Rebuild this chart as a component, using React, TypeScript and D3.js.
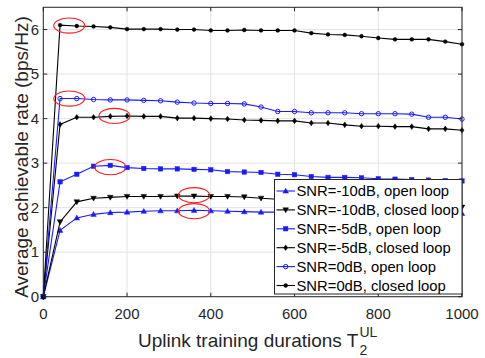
import React from "react";
import * as d3 from "d3";

const durations = [0, 40, 80, 120, 160, 200, 240, 280, 320, 360, 400, 440, 480, 520, 560, 600, 640, 680, 720, 760, 800, 840, 880, 920, 960, 1000];

const snrM10Open = [0, 1.49, 1.77, 1.85, 1.89, 1.90, 1.92, 1.93, 1.93, 1.94, 1.93, 1.92, 1.91, 1.90, 1.90, 1.89, 1.89, 1.89, 1.88, 1.88, 1.88, 1.87, 1.87, 1.87, 1.87, 1.87];
const snrM10Closed = [0, 1.68, 2.13, 2.21, 2.23, 2.25, 2.25, 2.25, 2.26, 2.26, 2.25, 2.25, 2.24, 2.21, 2.19, 2.17, 2.15, 2.14, 2.13, 2.11, 2.10, 2.08, 2.07, 2.05, 2.03, 2.01];
const snrM5Open = [0, 2.58, 2.75, 2.93, 2.95, 2.90, 2.88, 2.87, 2.87, 2.86, 2.85, 2.81, 2.80, 2.79, 2.75, 2.74, 2.70, 2.68, 2.68, 2.67, 2.65, 2.64, 2.63, 2.62, 2.61, 2.60];
const snrM5Closed = [0, 3.87, 4.03, 4.03, 4.05, 4.06, 4.05, 4.05, 4.01, 4.01, 4.00, 3.99, 3.97, 3.96, 3.95, 3.95, 3.90, 3.90, 3.86, 3.83, 3.83, 3.82, 3.82, 3.77, 3.77, 3.74];
const snr0Open = [0, 4.45, 4.45, 4.43, 4.42, 4.42, 4.41, 4.40, 4.37, 4.35, 4.34, 4.34, 4.33, 4.26, 4.16, 4.16, 4.13, 4.13, 4.13, 4.11, 4.11, 4.11, 4.10, 4.03, 4.03, 3.99];
const snr0Closed = [0, 6.10, 6.08, 6.07, 6.05, 6.01, 6.01, 6.01, 6.00, 6.00, 5.98, 5.98, 5.99, 5.98, 5.98, 5.98, 5.92, 5.89, 5.88, 5.85, 5.81, 5.78, 5.78, 5.78, 5.73, 5.67];

const seriesNames = [
  "SNR=-10dB, open loop",
  "SNR=-10dB, closed loop",
  "SNR=-5dB, open loop",
  "SNR=-5dB, closed loop",
  "SNR=0dB, open loop",
  "SNR=0dB, closed loop",
];
const seriesValues = [snrM10Open, snrM10Closed, snrM5Open, snrM5Closed, snr0Open, snr0Closed];
const seriesColors = ["#1a1aff", "#000000", "#1a1aff", "#000000", "#1a1aff", "#000000"];
const seriesMarkers = ["triUp", "triDown", "square", "diamond", "circle", "dot"];

const xTicks = [0, 200, 400, 600, 800, 1000];
const yTicks = [0, 1, 2, 3, 4, 5, 6];

// highlighted points (data coordinates)
const highlightX = [62, 62, 170, 160, 360, 360];
const highlightY = [6.09, 4.45, 4.06, 2.91, 2.28, 1.92];

const W = 485;
const H = 358;
const L = 43.3, R = 462, T = 7.3, B = 296.7;

function Marker({ type, x, y, color }: { type: string; x: number; y: number; color: string }) {
  if (type === "triUp") {
    const s = 2.8;
    return <path d={`M${x},${y - s}L${x + s},${y + s * 0.75}L${x - s},${y + s * 0.75}Z`} fill={color} stroke={color} strokeWidth={0.5} />;
  }
  if (type === "triDown") {
    const s = 2.8;
    return <path d={`M${x},${y + s}L${x + s},${y - s * 0.75}L${x - s},${y - s * 0.75}Z`} fill={color} stroke={color} strokeWidth={0.5} />;
  }
  if (type === "square") {
    const s = 2.2;
    return <rect x={x - s} y={y - s} width={2 * s} height={2 * s} fill={color} stroke={color} strokeWidth={0.5} />;
  }
  if (type === "diamond") {
    const s = 2.8;
    return <path d={`M${x},${y - s}L${x + s * 0.7},${y}L${x},${y + s}L${x - s * 0.7},${y}Z`} fill={color} stroke={color} strokeWidth={0.5} />;
  }
  if (type === "circle") {
    return <circle cx={x} cy={y} r={2.2} fill="none" stroke={color} strokeWidth={1} />;
  }
  return <circle cx={x} cy={y} r={1.9} fill={color} stroke={color} strokeWidth={0.5} />;
}

export default function App() {
  const x = d3.scaleLinear().domain([0, 1000]).range([L, R]);
  const y = d3.scaleLinear().domain([0, 6.5]).range([B, T]);
  const line = d3
    .line<number>()
    .x((_, i) => x(durations[i]))
    .y((d) => y(d));

  const font = "'Liberation Sans', Arial, Helvetica, sans-serif";
  const axisColor = "#262626";
  const legX = 274.5, legY = 179.5, legW = 187.5, legH = 114.5;
  const rowH = 18.9;

  return (
    <svg width={W} height={H} style={{ position: "absolute", left: 0, top: 0, background: "#fff" }} fontFamily={font}>
      <rect x={0} y={0} width={W} height={H} fill="#fff" />
      {/* grid */}
      {xTicks.map((t) => (
        <line key={"gx" + t} x1={x(t)} x2={x(t)} y1={T} y2={B} stroke="#e3e3e3" strokeWidth={1} />
      ))}
      {yTicks.map((t) => (
        <line key={"gy" + t} x1={L} x2={R} y1={y(t)} y2={y(t)} stroke="#e3e3e3" strokeWidth={1} />
      ))}
      {/* series */}
      {seriesValues.map((vals, si) => (
        <g key={"s" + si}>
          <path d={line(vals) || ""} fill="none" stroke={seriesColors[si]} strokeWidth={1.1} />
          {vals.map((v, i) => (
            <Marker key={i} type={seriesMarkers[si]} x={x(durations[i])} y={y(v)} color={seriesColors[si]} />
          ))}
        </g>
      ))}
      {/* highlight ellipses */}
      {highlightX.map((hx, i) => (
        <ellipse key={"e" + i} cx={x(hx)} cy={y(highlightY[i])} rx={15.5} ry={7.6} fill="none" stroke="#ff1a1a" strokeWidth={1.1} />
      ))}
      {/* axes frame */}
      <rect x={L} y={T} width={R - L} height={B - T} fill="none" stroke={axisColor} strokeWidth={1} />
      {xTicks.map((t) => (
        <g key={"tx" + t}>
          <line x1={x(t)} x2={x(t)} y1={B} y2={B - 4} stroke={axisColor} />
          <line x1={x(t)} x2={x(t)} y1={T} y2={T + 4} stroke={axisColor} />
          <text x={x(t)} y={319} textAnchor="middle" fontSize={15} fill={axisColor}>{t}</text>
        </g>
      ))}
      {yTicks.map((t) => (
        <g key={"ty" + t}>
          <line x1={L} x2={L + 4} y1={y(t)} y2={y(t)} stroke={axisColor} />
          <line x1={R} x2={R - 4} y1={y(t)} y2={y(t)} stroke={axisColor} />
          <text x={39} y={y(t) + 5.3} textAnchor="end" fontSize={15} fill={axisColor}>{t}</text>
        </g>
      ))}
      {/* axis labels */}
      <text x={138} y={347} fontSize={19} fill={axisColor}>
        Uplink training durations T
      </text>
      <text x={359.5} y={337} fontSize={14} fill={axisColor}>UL</text>
      <text x={359.5} y={355} fontSize={14} fill={axisColor}>2</text>
      <text transform={`translate(27.5,157) rotate(-90)`} textAnchor="middle" fontSize={19} fill={axisColor}>
        Average achievable rate (bps/Hz)
      </text>
      {/* legend */}
      <rect x={legX} y={legY} width={legW} height={legH} fill="#fff" stroke={axisColor} strokeWidth={1} />
      {seriesNames.map((name, i) => {
        const cy = 191 + i * rowH;
        return (
          <g key={"l" + i}>
            <line x1={276.5} x2={295} y1={cy} y2={cy} stroke={seriesColors[i]} strokeWidth={1.1} />
            <Marker type={seriesMarkers[i]} x={285.7} y={cy} color={seriesColors[i]} />
            <text x={296.5} y={cy + 5.3} fontSize={14.8} fill="#000">{name}</text>
          </g>
        );
      })}
    </svg>
  );
}
